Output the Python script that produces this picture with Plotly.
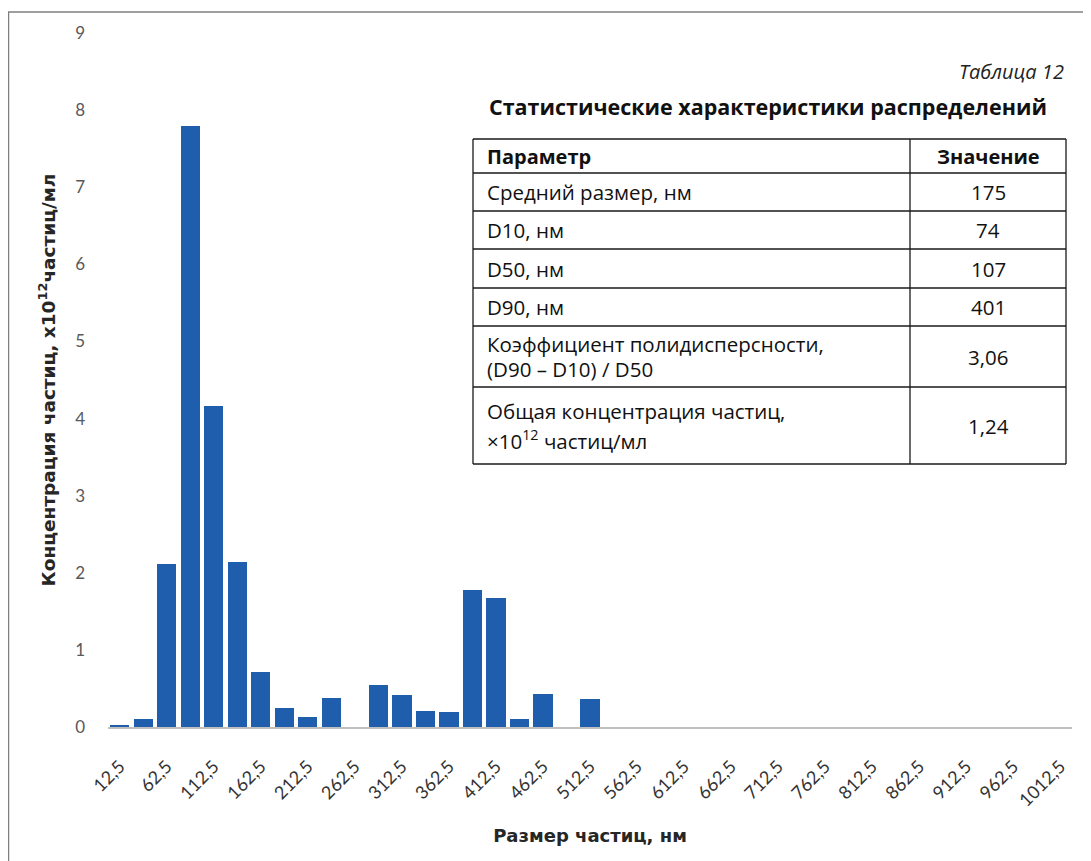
import plotly.graph_objects as go

# ---- data ----
sizes_nm = [12.5 + 25 * i for i in range(41)]
concentration = [0.03, 0.10, 2.12, 7.79, 4.16, 2.14, 0.71, 0.24, 0.13, 0.38,
                 0.0, 0.54, 0.41, 0.21, 0.19, 1.78, 1.67, 0.11, 0.43, 0.0,
                 0.36] + [0.0] * 20
tick_values = [12.5 + 50 * i for i in range(21)]
tick_labels = ["12,5", "62,5", "112,5", "162,5", "212,5", "262,5", "312,5",
               "362,5", "412,5", "462,5", "512,5", "562,5", "612,5", "662,5",
               "712,5", "762,5", "812,5", "862,5", "912,5", "962,5", "1012,5"]

table_title_label = "Таблица 12"
table_title = "Статистические характеристики распределений"
table_header = ["Параметр", "Значение"]
table_params = [["Средний размер, нм"], ["D10, нм"], ["D50, нм"], ["D90, нм"],
                ["Коэффициент полидисперсности,", "(D90 – D10) / D50"],
                ["Общая концентрация частиц,", "×10<sup>12</sup> частиц/мл"]]
table_values = ["175", "74", "107", "401", "3,06", "1,24"]

OFF = 8  # page body margin
W, H = 1091 - OFF, 861 - OFF
PL, PR, PT, PB = 108, 1072, 33, 727  # plot area in reference pixels


def px(x):
    return (x - PL) / (PR - PL)


def py(y):
    return (PB - y) / (PB - PT)


fig = go.Figure()
fig.add_trace(go.Bar(x=sizes_nm, y=concentration, width=20.5,
                     marker=dict(color="#1F5EAD", line=dict(width=0)),
                     showlegend=False))

shapes = []
annotations = []

# outer frame (left and top lines)
shapes.append(dict(type="line", xref="paper", yref="paper", x0=px(8.5), x1=px(8.5),
                   y0=py(12), y1=py(870), line=dict(color="#7F7F7F", width=1.5)))
shapes.append(dict(type="line", xref="paper", yref="paper", x0=px(8), x1=px(1100),
                   y0=py(12), y1=py(12), line=dict(color="#7F7F7F", width=1.5)))

# table
tfont = "Open Sans, Noto Sans, sans-serif"
row_lines = [139, 173, 211, 249, 288, 326, 387, 464]
line_gaps = [0, 0, 0, 0, 25, 29]
xl, xm, xr = 473, 910, 1066
for y in row_lines:
    shapes.append(dict(type="line", xref="paper", yref="paper", x0=px(xl), x1=px(xr),
                       y0=py(y), y1=py(y), line=dict(color="#1a1a1a", width=1.3)))
for x in (xl, xm, xr):
    shapes.append(dict(type="line", xref="paper", yref="paper", x0=px(x), x1=px(x),
                       y0=py(row_lines[0]), y1=py(row_lines[-1]),
                       line=dict(color="#1a1a1a", width=1.3)))

annotations.append(dict(text="<i>" + table_title_label + "</i>", xref="paper", yref="paper",
                        x=px(1066), y=py(72), xanchor="right", yanchor="middle",
                        showarrow=False, font=dict(family=tfont, size=20, color="#222222")))
annotations.append(dict(text="<b>" + table_title + "</b>", xref="paper", yref="paper",
                        x=px(768), y=py(107), xanchor="center", yanchor="middle",
                        showarrow=False, font=dict(family=tfont, size=21.5, color="#111111")))

annotations.append(dict(text="<b>" + table_header[0] + "</b>", xref="paper", yref="paper",
                        x=px(485), y=py(156), xanchor="left", yanchor="middle",
                        showarrow=False, font=dict(family=tfont, size=20, color="#111111")))
annotations.append(dict(text="<b>" + table_header[1] + "</b>", xref="paper", yref="paper",
                        x=px(988), y=py(156), xanchor="center", yanchor="middle",
                        showarrow=False, font=dict(family=tfont, size=20, color="#111111")))
for i, (lines, v) in enumerate(zip(table_params, table_values)):
    yc = (row_lines[i + 1] + row_lines[i + 2]) / 2
    n = len(lines)
    for k, line in enumerate(lines):
        yl = yc + (k - (n - 1) / 2) * line_gaps[i]
        annotations.append(dict(text=line, xref="paper", yref="paper", x=px(485), y=py(yl),
                                xanchor="left", yanchor="middle", align="left",
                                showarrow=False,
                                font=dict(family=tfont, size=20.5, color="#111111")))
    annotations.append(dict(text=v, xref="paper", yref="paper", x=px(988), y=py(yc),
                            xanchor="center", yanchor="middle",
                            showarrow=False,
                            font=dict(family=tfont, size=20.5, color="#111111")))

fig.update_layout(
    width=W, height=H,
    margin=dict(l=PL - OFF, r=1091 - PR, t=PT - OFF, b=861 - PB),
    paper_bgcolor="white", plot_bgcolor="white",
    bargap=0,
    shapes=shapes,
    annotations=annotations,
    font=dict(family="Lato, Open Sans, sans-serif"),
    xaxis=dict(range=[0, 1025], tickvals=tick_values, ticktext=tick_labels,
               tickangle=-45, showgrid=False, zeroline=False,
               showline=True, linecolor="#BFBFBF", linewidth=2,
               ticks="", ticklabelstandoff=20,
               tickfont=dict(size=18, color="#333333"),
               title=dict(text="<b>Размер частиц, нм</b>", standoff=20,
                          font=dict(family="DejaVu Sans, sans-serif", size=18,
                                    color="#262626"))),
    yaxis=dict(range=[0, 9], dtick=1, showgrid=False, zeroline=False,
               showline=False, ticks="", ticklabelstandoff=22,
               tickfont=dict(size=17, color="#595959"),
               title=dict(text="<b>Концентрация частиц, x10<sup>12</sup>частиц/мл</b>",
                          standoff=14, font=dict(family="DejaVu Sans, sans-serif",
                                                 size=18.5, color="#262626"))),
)

fig.write_html("out.html")
